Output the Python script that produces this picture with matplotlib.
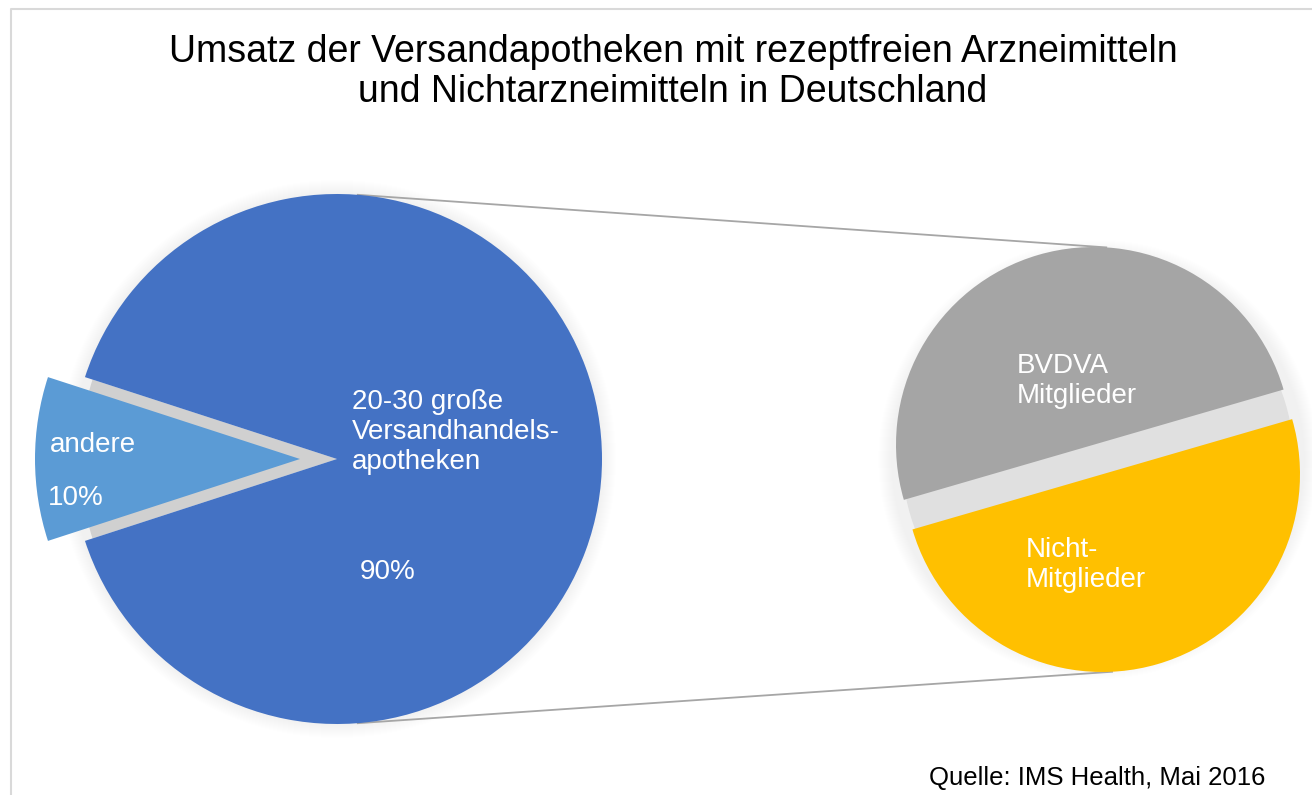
import numpy as np
import matplotlib
matplotlib.use("Agg")
import matplotlib.pyplot as plt
from matplotlib.patches import Wedge, Circle

plt.rcParams['font.family'] = ['Liberation Sans', 'DejaVu Sans']

# ---- data ----
main_labels = ["20-30 große\nVersandhandels-\napotheken", "andere"]
main_values = [90, 10]
main_pct = ["90%", "10%"]
main_colors = ["#4472C4", "#5B9BD5"]

sub_labels = ["BVDVA\nMitglieder", "Nicht-\nMitglieder"]
sub_values = [50, 50]
sub_colors = ["#A5A5A5", "#FFC000"]

title_lines = ["Umsatz der Versandapotheken mit rezeptfreien Arzneimitteln",
               "und Nichtarzneimitteln in Deutschland"]
source = "Quelle: IMS Health, Mai 2016"

W, H = 1312, 795
fig = plt.figure(figsize=(W / 100, H / 100), dpi=100)
ax = fig.add_axes([0, 0, 1, 1])

def Y(y):  # image y (top-down) -> axes y (bottom-up)
    return H - y

# ---- geometry (layout) ----
c1 = (337, Y(459)); r1 = 265
exp1 = 37
c2 = (1098, Y(459.5)); r2 = 197.7
exp2 = 15.4
start2 = 16.2

# soft shadows
for k in range(14, 0, -1):
    ax.add_patch(Circle(c1, r1 + k, color="#000000", alpha=0.005, lw=0, zorder=1))
    ax.add_patch(Circle(c2, r2 + 8 + k, color="#000000", alpha=0.005, lw=0, zorder=1))

# gap fills (shadow seen between exploded slices)
ax.add_patch(Wedge(c1, r1 * 0.97, 162, 198, color="#d0d0d0", lw=0, zorder=2))
ax.add_patch(Circle(c2, r2 * 0.99, color="#e0e0e0", lw=0, zorder=2))

# main pie
w1, _ = ax.pie(main_values, colors=main_colors, startangle=198, counterclock=True,
               explode=[0, exp1], center=c1, radius=r1, frame=True,
               wedgeprops=dict(lw=0))
for w in w1:
    w.set_zorder(3)

# sub pie
w2, _ = ax.pie(sub_values, colors=sub_colors, startangle=start2, counterclock=True,
               explode=[exp2, exp2], center=c2, radius=r2, frame=True,
               wedgeprops=dict(lw=0))
for w in w2:
    w.set_zorder(3)

# connector lines
a_top, a_bot = np.deg2rad(85.7), np.deg2rad(-85.7)
nx, ny = np.cos(np.deg2rad(start2 + 90)), np.sin(np.deg2rad(start2 + 90))
g_c = (c2[0] + exp2 * nx, c2[1] + exp2 * ny)
y_c = (c2[0] - exp2 * nx, c2[1] - exp2 * ny)
b_top, b_bot = np.deg2rad(86.1), np.deg2rad(-86.9)
ax.plot([c1[0] + r1 * np.cos(a_top), g_c[0] + r2 * np.cos(b_top)],
        [c1[1] + r1 * np.sin(a_top), g_c[1] + r2 * np.sin(b_top)],
        color="#a6a6a6", lw=1.3, zorder=2.5, solid_capstyle="butt")
ax.plot([c1[0] + r1 * np.cos(a_bot), y_c[0] + r2 * np.cos(b_bot)],
        [c1[1] + r1 * np.sin(a_bot), y_c[1] + r2 * np.sin(b_bot)],
        color="#a6a6a6", lw=1.3, zorder=2.5, solid_capstyle="butt")

# labels
fs = 20
ax.text(352, Y(432), main_labels[0], color="white", fontsize=fs, ha="left", va="center",
        linespacing=1.22, zorder=5)
ax.text(360, Y(572), main_pct[0], color="white", fontsize=fs, ha="left", va="center", zorder=5)
ax.text(50, Y(445), main_labels[1], color="white", fontsize=fs, ha="left", va="center", zorder=5)
ax.text(48, Y(498), main_pct[1], color="white", fontsize=fs, ha="left", va="center", zorder=5)
ax.text(1017, Y(381), sub_labels[0], color="white", fontsize=fs, ha="left", va="center",
        linespacing=1.22, zorder=5)
ax.text(1026, Y(565), sub_labels[1], color="white", fontsize=fs, ha="left", va="center",
        linespacing=1.22, zorder=5)

ax.text(673, Y(62), title_lines[0], color="black", fontsize=27, ha="center", va="baseline", zorder=5)
ax.text(673, Y(102), title_lines[1], color="black", fontsize=27, ha="center", va="baseline", zorder=5)
ax.text(1265, Y(778), source, color="black", fontsize=18.5, ha="right", va="center", zorder=5)

# chart border
ax.plot([10.5, 10.5, W], [0, Y(9), Y(9)], color="#d9d9d9", lw=1.5, zorder=0.5)

ax.set_xlim(0, W)
ax.set_ylim(0, H)
ax.set_aspect("equal")
ax.axis("off")

fig.savefig("out.png", dpi=100)
